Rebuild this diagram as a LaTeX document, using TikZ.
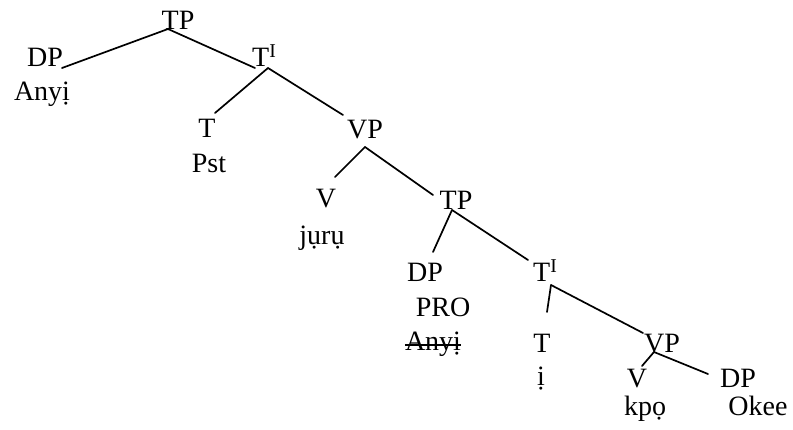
\documentclass[tikz,border=0pt]{standalone}
\usepackage{fontspec}
\setmainfont{Liberation Serif}
\begin{document}
\begin{tikzpicture}[x=1pt,y=-1pt,
  lab/.style={inner sep=0pt,anchor=base,font=\fontsize{28}{30}\selectfont},
  labw/.style={inner sep=0pt,anchor=base west,font=\fontsize{28}{30}\selectfont},
  edge/.style={line width=1.7pt,line cap=round}]
\useasboundingbox (0,0) rectangle (793,430);
% labels
\node[lab]  (tp1)  at (178,30)  {TP};
\node[lab]  (dp1)  at (45,67)   {DP};
\node[lab]  (any1) at (42,101)  {Anyị};
\node[labw] (tb1)  at (252,67)  {T\textsuperscript{I}};
\node[lab]  (t1)   at (207,138) {T};
\node[lab]  (pst)  at (209,173) {Pst};
\node[lab]  (vp1)  at (365,139) {VP};
\node[lab]  (v1)   at (326,208) {V};
\node[lab]  (juru) at (322,245) {jụrụ};
\node[lab]  (tp2)  at (456,210) {TP};
\node[lab]  (dp2)  at (425,282) {DP};
\node[lab]  (pro)  at (443,317) {PRO};
\node[lab]  (any2) at (433,351) {Anyị};
\node[labw] (tb2)  at (533,282) {T\textsuperscript{I}};
\node[lab]  (t2)   at (542,353) {T};
\node[lab]  (ii)   at (541,385) {ị};
\node[lab]  (vp2)  at (662,353) {VP};
\node[lab]  (v2)   at (637,388) {V};
\node[lab]  (dp3)  at (738,388) {DP};
\node[lab]  (kpo)  at (645,415) {kpọ};
\node[lab]  (okee) at (758,415) {Okee};
% branch points and line ends
\coordinate (tp1b) at (168,29);
\coordinate (dp1e) at (62,68);
\coordinate (tb1e) at (255,68);
\coordinate (tb1b) at (268,68);
\coordinate (t1e)  at (215,113);
\coordinate (vp1e) at (343,115);
\coordinate (vp1b) at (365,147);
\coordinate (v1e)  at (335,177);
\coordinate (tp2e) at (433,195);
\coordinate (tp2b) at (452,210);
\coordinate (dp2e) at (433,252);
\coordinate (tb2e) at (528,260);
\coordinate (tb2b) at (551,285);
\coordinate (t2e)  at (547,312);
\coordinate (vp2e) at (643,333);
\coordinate (vp2b) at (654,352);
\coordinate (v2e)  at (642,366);
\coordinate (dp3e) at (708,374);
% connectors
\draw[edge] (tp1b) -- (dp1e);
\draw[edge] (tp1b) -- (tb1e);
\draw[edge] (tb1b) -- (t1e);
\draw[edge] (tb1b) -- (vp1e);
\draw[edge] (vp1b) -- (v1e);
\draw[edge] (vp1b) -- (tp2e);
\draw[edge] (tp2b) -- (dp2e);
\draw[edge] (tp2b) -- (tb2e);
\draw[edge] (tb2b) -- (t2e);
\draw[edge] (tb2b) -- (vp2e);
\draw[edge] (vp2b) -- (v2e);
\draw[edge] (vp2b) -- (dp3e);
% strike-through
\draw[line width=1.4pt] ([yshift=6pt]any2.base west) -- ([yshift=6pt]any2.base east);
\end{tikzpicture}
\end{document}
